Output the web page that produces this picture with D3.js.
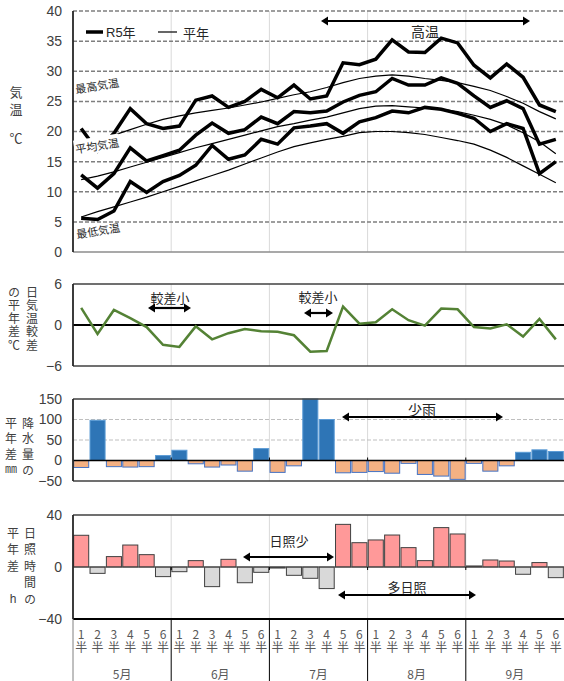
<!DOCTYPE html>
<html>
<head>
<meta charset="utf-8">
<script src="https://cdn.jsdelivr.net/npm/d3@7"></script>
<style>
  body { margin: 0; background: #fff; }
  svg { display: block; font-family: "Liberation Sans", "Noto Sans CJK JP", sans-serif; }
</style>
</head>
<body>
<svg width="564" height="681"></svg>
<script>
// categories: 半旬 (pentads) for May - September
const months = ["5月", "6月", "7月", "8月", "9月"];
const pentadNo = ["1", "2", "3", "4", "5", "6"];
const cats = months.flatMap(m => pentadNo.map(p => m + p));

// temperature (°C)
const maxR5 = [20.5, 16.8, 19.7, 23.8, 21.3, 20.5, 20.9, 25.2, 25.9, 24.0, 25.0, 27.0, 25.6, 27.7, 25.4,
               25.9, 31.4, 31.1, 32.0, 35.2, 33.2, 33.1, 35.5, 34.7, 31.0, 28.9, 31.2, 29.0, 24.4, 23.3];
const meanR5 = [12.8, 10.6, 13.0, 17.3, 15.1, 16.0, 16.9, 19.4, 21.4, 19.7, 20.3, 22.4, 21.3, 23.3, 23.1,
                23.4, 24.9, 26.0, 26.6, 28.8, 27.7, 27.7, 28.9, 28.0, 25.9, 24.0, 25.1, 23.8, 17.9, 18.7];
const minR5 = [5.6, 5.4, 6.8, 11.7, 9.9, 11.7, 12.7, 14.4, 17.7, 15.4, 16.1, 18.7, 17.9, 20.6, 20.9,
               21.3, 19.7, 21.6, 22.3, 23.4, 23.1, 24.0, 23.7, 23.0, 22.2, 20.0, 21.3, 20.5, 13.0, 15.0];
const maxNormal = [18.0, 18.7, 19.4, 20.3, 21.2, 22.0, 22.6, 23.1, 23.5, 23.9, 24.4, 24.9, 25.5, 26.1, 26.6,
                   27.3, 28.1, 28.8, 29.2, 29.4, 29.2, 28.8, 28.5, 28.1, 27.5, 26.8, 25.8, 24.7, 23.3, 22.1];
const meanNormal = [12.0, 12.6, 13.3, 14.1, 14.9, 15.7, 16.5, 17.3, 18.0, 18.7, 19.4, 20.1, 20.8, 21.3, 21.9,
                    22.4, 23.1, 23.8, 24.2, 24.3, 24.1, 23.9, 23.7, 23.3, 22.7, 22.0, 21.1, 19.8, 18.3, 16.3];
const minNormal = [5.8, 6.7, 7.5, 8.3, 9.1, 10.0, 10.9, 11.8, 12.7, 13.6, 14.6, 15.6, 16.6, 17.5, 18.1,
                   18.7, 19.2, 19.8, 20.0, 20.0, 19.8, 19.5, 19.0, 18.5, 17.9, 16.9, 15.7, 14.3, 12.9, 11.5];

// 日気温較差の平年差 (°C)
const rangeDiff = [2.5, -1.3, 2.2, 1.0, -0.3, -2.9, -3.2, -0.2, -2.1, -1.2, -0.6, -0.9, -1.0, -1.5, -3.9,
                   -3.8, 2.7, 0.2, 0.4, 2.3, 0.7, -0.1, 2.4, 2.3, -0.3, -0.5, 0.1, -1.7, 0.9, -2.1];
// 降水量の平年差 (mm)
const precipDiff = [-17, 98, -15, -16, -15, 12, 25, -8, -16, -11, -26, 29, -29, -13, 150,
                    100, -30, -29, -27, -31, -7, -34, -38, -46, -7, -26, -13, 20, 26, 22];
// 日照時間の平年差 (h)
const sunDiff = [24.4, -4.9, 8.0, 16.9, 9.5, -7.4, -3.6, 4.9, -15.1, 5.9, -12.1, -4.1, -0.8, -6.4, -8.7,
                 -16.6, 32.8, 18.7, 20.8, 24.6, 14.9, 4.9, 30.3, 25.4, 0.8, 5.4, 4.6, -5.6, 3.4, -8.2];

const tempTicks = [0, 5, 10, 15, 20, 25, 30, 35, 40];
const rangeTicks = [-6, 0, 6];
const precipTicks = [-50, 0, 50, 100, 150];
const sunTicks = [-40, 0, 40];

const svg = d3.select("svg");
const left = 73, right = 564;

const x = d3.scaleBand().domain(cats).range([left, right]).paddingInner(0.08).paddingOuter(0.04);
const cx = c => x(c) + x.bandwidth() / 2;
const monthX = months.map((m, i) => x(m + "1") - x.step() * 0.04).concat([right]);

function hline(g, y, x1, x2, color, w, dash) {
    g.append("line").attr("x1", x1).attr("x2", x2).attr("y1", y).attr("y2", y)
        .attr("stroke", color).attr("stroke-width", w).attr("stroke-dasharray", dash || null);
}
function vline(g, xx, y1, y2, color, w) {
    g.append("line").attr("x1", xx).attr("x2", xx).attr("y1", y1).attr("y2", y2)
        .attr("stroke", color).attr("stroke-width", w);
}
function yAxis(g, scale, ticks) {
    const a = g.append("g").attr("transform", `translate(${left},0)`)
        .call(d3.axisLeft(scale).tickValues(ticks).tickSize(0).tickPadding(11));
    a.select(".domain").remove();
    a.selectAll("text").attr("font-size", "14px").attr("fill", "#404040")
        .attr("font-family", "Liberation Sans, sans-serif");
}
function arrow(g, x1, x2, y, both) {
    const h = 7, w = 4.5;
    g.append("line").attr("x1", both ? x1 + h - 1 : x1).attr("x2", x2 - h + 1)
        .attr("y1", y).attr("y2", y).attr("stroke", "#000").attr("stroke-width", 2.2);
    g.append("path").attr("d", `M${x2},${y} L${x2 - h},${y - w} L${x2 - h},${y + w} Z`).attr("fill", "#000");
    if (both) g.append("path").attr("d", `M${x1},${y} L${x1 + h},${y - w} L${x1 + h},${y + w} Z`).attr("fill", "#000");
}
function label(g, txt, xx, yy, size) {
    g.append("text").attr("x", xx).attr("y", yy).attr("text-anchor", "middle")
        .attr("dominant-baseline", "central").attr("font-size", size + "px").attr("fill", "#262626")
        .attr("font-family", "Noto Sans CJK JP").text(txt);
}
// vertical text, one element written top to bottom
function column(g, txt, xx, top, size, gap, color) {
    return g.append("text").attr("x", xx).attr("y", top)
        .attr("writing-mode", "vertical-rl")
        .style("text-orientation", "upright")
        .style("letter-spacing", gap + "px")
        .attr("font-size", size + "px").attr("fill", color || "#404040")
        .attr("font-family", "Noto Sans CJK JP").text(txt);
}

// ---------- panel 1: temperature ----------
const g1 = svg.append("g");
const y1 = d3.scaleLinear().domain([0, 40]).range([252, 11]);
monthX.slice(1, 5).forEach(m => vline(g1, m, y1(40), y1(0), "#d9d9d9", 1));
tempTicks.filter(t => t > 0).forEach(t => hline(g1, y1(t), left, right, "#7f7f7f", 1.5, "4,2"));
hline(g1, y1(0), left, right, "#8c8c8c", 1.5);
vline(g1, left, y1(40), y1(0), "#262626", 1.8);
yAxis(g1, y1, tempTicks);

const line1 = arr => d3.line().x((d, i) => cx(cats[i])).y(d => y1(d))(arr);
[maxNormal, meanNormal, minNormal].forEach(a =>
    g1.append("path").attr("d", line1(a)).attr("fill", "none").attr("stroke", "#000").attr("stroke-width", 1.2));
[maxR5, meanR5, minR5].forEach(a =>
    g1.append("path").attr("d", line1(a)).attr("fill", "none").attr("stroke", "#000").attr("stroke-width", 3.5));

function slanted(txt, xx, yy, bg) {
    const t = g1.append("g").attr("transform", `translate(${xx},${yy}) rotate(-9)`);
    if (bg) t.append("rect").attr("x", -23).attr("y", -8).attr("width", 46).attr("height", 16).attr("fill", "#fff");
    t.append("text").attr("text-anchor", "middle").attr("dominant-baseline", "central")
        .attr("font-size", "11px").attr("fill", "#262626").attr("font-family", "Noto Sans CJK JP").text(txt);
}
slanted("最高気温", 97, 85, false);
slanted("平均気温", 97, 145, true);
slanted("最低気温", 98, 230, false);

// legend
hline(g1, 32, 86, 103, "#000", 3.5);
g1.append("text").attr("x", 106).attr("y", 32).attr("dominant-baseline", "central")
    .attr("font-size", "13px").attr("fill", "#262626").text("R5年");
hline(g1, 32, 158, 177, "#000", 1.2);
g1.append("text").attr("x", 183).attr("y", 32).attr("dominant-baseline", "central")
    .attr("font-size", "13px").attr("fill", "#262626").attr("font-family", "Noto Sans CJK JP").text("平年");

arrow(g1, 321, 530, 21, true);
label(g1, "高温", 425, 31, 14);
column(g1, "気温", 16, 86, 13, 4);
g1.append("text").attr("x", 16).attr("y", 137).attr("text-anchor", "middle").attr("dominant-baseline", "central")
    .attr("font-size", "13px").attr("fill", "#404040").attr("font-family", "Noto Sans CJK JP").text("℃");

// ---------- panel 2: daily range diff ----------
const g2 = svg.append("g");
const y2 = d3.scaleLinear().domain([-6, 6]).range([366, 284]);
monthX.slice(1, 5).forEach(m => vline(g2, m, y2(6), y2(-6), "#d9d9d9", 1));
hline(g2, y2(6), left, right, "#404040", 1.5);
hline(g2, y2(-6), left, right, "#404040", 1.5);
hline(g2, y2(0), left, right, "#000", 2);
vline(g2, left, y2(6), y2(-6), "#262626", 1.8);
yAxis(g2, y2, rangeTicks);
g2.append("path").attr("d", d3.line().x((d, i) => cx(cats[i])).y(d => y2(d))(rangeDiff))
    .attr("fill", "none").attr("stroke", "#548235").attr("stroke-width", 2.5);
label(g2, "較差小", 170, 297, 13);
arrow(g2, 148, 191, 308, true);
label(g2, "較差小", 318, 296, 13);
arrow(g2, 304, 333, 313, true);
column(g2, "の平年差℃", 14, 286, 12, 1.3);
column(g2, "日気温較差", 32, 286, 12, 1.3);

// ---------- panel 3: precipitation diff ----------
const g3 = svg.append("g");
const y3 = d3.scaleLinear().domain([-50, 150]).range([481, 399]).clamp(true);
monthX.slice(1, 5).forEach(m => vline(g3, m, y3(150), y3(-50), "#d9d9d9", 1));
[50, 100].forEach(t => hline(g3, y3(t), left, right, "#bfbfbf", 1, "4,2"));
g3.selectAll("rect.p").data(precipDiff).enter().append("rect")
    .attr("x", (d, i) => x(cats[i])).attr("width", x.bandwidth())
    .attr("y", d => y3(Math.max(d, 0))).attr("height", d => Math.abs(y3(d) - y3(0)))
    .attr("fill", d => d >= 0 ? "#2e75b6" : "#f4b183")
    .attr("stroke", d => d >= 0 ? "#5b9bd5" : "#4472c4").attr("stroke-width", 1);
hline(g3, y3(150), left, right, "#404040", 1.5);
hline(g3, y3(-50), left, right, "#404040", 1.5);
hline(g3, y3(0), left, right, "#000", 1.5);
monthX.slice(1, 5).forEach(m => vline(g3, m, y3(0) - 3, y3(0), "#000", 1));
vline(g3, left, y3(150), y3(-50), "#262626", 1.8);
yAxis(g3, y3, precipTicks);
arrow(g3, 342, 503, 417, true);
label(g3, "少雨", 422, 409, 14);
column(g3, "平年差㎜", 11, 417, 12, 3.7);
column(g3, "降水量の", 28, 417, 12, 3.7);

// ---------- panel 4: sunshine diff ----------
const g4 = svg.append("g");
const y4 = d3.scaleLinear().domain([-40, 40]).range([619, 515]);
monthX.slice(1, 5).forEach(m => vline(g4, m, y4(40), y4(-40), "#d9d9d9", 1));
g4.selectAll("rect.s").data(sunDiff).enter().append("rect")
    .attr("x", (d, i) => x(cats[i])).attr("width", x.bandwidth())
    .attr("y", d => y4(Math.max(d, 0))).attr("height", d => Math.abs(y4(d) - y4(0)))
    .attr("fill", d => d >= 0 ? "#ff9999" : "#d9d9d9")
    .attr("stroke", "#404040").attr("stroke-width", 1);
hline(g4, y4(0), left, right, "#404040", 1);
monthX.slice(1, 5).forEach(m => vline(g4, m, y4(0), y4(0) + 3, "#000", 1));
hline(g4, y4(40), left, right, "#404040", 1.5);
hline(g4, y4(-40), left, right, "#000", 1.8);
vline(g4, left, y4(40), y4(-40), "#262626", 1.8);
yAxis(g4, y4, sunTicks);
label(g4, "日照少", 289, 540, 13);
arrow(g4, 243, 334, 557, true);
label(g4, "多日照", 407, 586, 13);
arrow(g4, 338, 476, 595, true);
column(g4, "平年差", 13, 527, 12, 4.5);
g4.append("text").attr("x", 13).attr("y", 599).attr("text-anchor", "middle").attr("dominant-baseline", "central")
    .attr("font-size", "12px").attr("fill", "#404040").text("h");
column(g4, "日照時間の", 30, 527, 12, 4.5);

// ---------- category axis ----------
const gx = svg.append("g");
cats.forEach((c, i) => column(gx, pentadNo[i % 6] + "半", cx(c), 628, 12, 1, "#595959"));
months.forEach((m, i) => {
    gx.append("text").attr("x", (monthX[i] + monthX[i + 1]) / 2).attr("y", 673).attr("text-anchor", "middle")
        .attr("dominant-baseline", "central").attr("font-size", "12px").attr("fill", "#595959")
        .attr("font-family", "Noto Sans CJK JP").text(m);
});
vline(gx, left, y4(-40), 681, "#808080", 1);
monthX.slice(1, 5).forEach(m => vline(gx, m, y4(-40), 681, "#000", 1));
</script>
</body>
</html>
